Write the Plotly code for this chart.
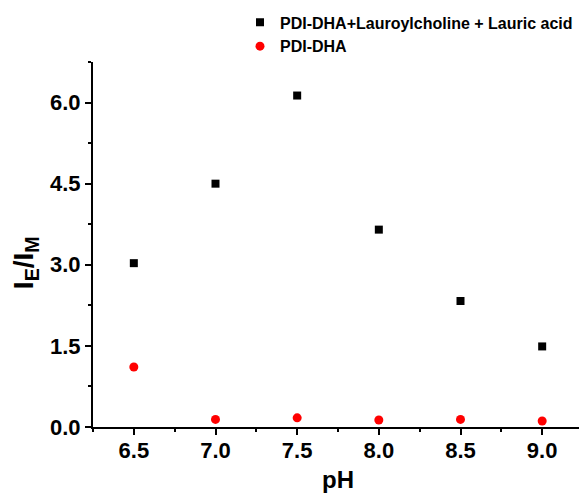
import plotly.graph_objects as go

ph = [6.5, 7.0, 7.5, 8.0, 8.5, 9.0]
mix_vals = [3.03, 4.50, 6.13, 3.65, 2.33, 1.49]
pdi_vals = [1.11, 0.14, 0.17, 0.13, 0.14, 0.11]
x_ticks = [6.5, 7.0, 7.5, 8.0, 8.5, 9.0]
y_ticks = [0.0, 1.5, 3.0, 4.5, 6.0]

FONT = "Liberation Sans, Arial, sans-serif"

fig = go.Figure()
fig.add_trace(go.Scatter(
    x=ph, y=mix_vals, mode="markers", name="PDI-DHA+Lauroylcholine + Lauric acid",
    marker=dict(symbol="square", size=8, color="black"), legendgroup="a"))
fig.add_trace(go.Scatter(
    x=ph, y=pdi_vals, mode="markers", name="PDI-DHA",
    marker=dict(symbol="circle", size=9, color="#ff0000"), legendgroup="b"))

axis_common = dict(
    showline=True, linecolor="black", linewidth=2, ticks="outside",
    ticklen=6, tickwidth=2, tickcolor="black", showgrid=False, zeroline=False,
    automargin=False,
    tickfont=dict(family=FONT, size=22, color="black", weight="bold"),
)

# page body has an 8px margin, so the figure is sized/offset to compensate
fig.update_layout(
    width=579, height=489,
    margin=dict(l=85, r=4, t=54, b=70, autoexpand=False),
    plot_bgcolor="white", paper_bgcolor="white",
    showlegend=True,
    legend=dict(x=0.30, y=1.155, xanchor="left", yanchor="top",
                font=dict(family=FONT, size=16, color="black", weight="bold"),
                tracegroupgap=0, bgcolor="rgba(0,0,0,0)"),
    xaxis=dict(range=[6.25, 9.25], tickvals=x_ticks,
               ticktext=[f"{v:.1f}" for v in x_ticks],
               ticklabelstandoff=-3,
               minor=dict(dtick=0.25, tick0=6.25, ticks="outside", ticklen=3,
                          tickwidth=2, tickcolor="black"),
               title=dict(text="pH", font=dict(family=FONT, size=24, color="black", weight="bold"),
                          standoff=9),
               **axis_common),
    yaxis=dict(range=[0, 6.75], tickvals=y_ticks,
               ticktext=[f"{v:.1f}" for v in y_ticks],
               minor=dict(dtick=0.75, tick0=0, ticks="outside", ticklen=3,
                          tickwidth=2, tickcolor="black"),
               **axis_common),
    annotations=[dict(
        text="I<sub>E</sub>/I<sub>M</sub>", textangle=-90, showarrow=False,
        xref="paper", yref="paper", x=-0.138, y=0.45,
        xanchor="center", yanchor="middle",
        font=dict(family=FONT, size=28, color="black", weight="bold"))],
)

fig.write_html("out.html")
